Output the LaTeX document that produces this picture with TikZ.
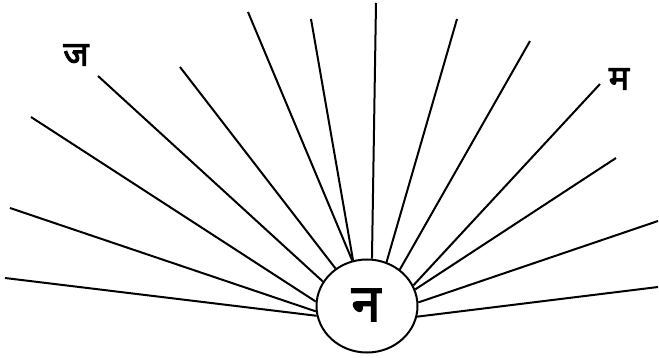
\documentclass[tikz,border=0pt]{standalone}
\usepackage{fontspec}
\newfontfamily\deva[Script=Devanagari, FakeBold=3]{Noto Sans}
\usetikzlibrary{shapes.geometric}
\begin{document}
\begin{tikzpicture}[x=1pt,y=-1pt,
  ray/.style={line width=2pt},
  hub/.style={ellipse, draw, line width=2pt, minimum width=101pt, minimum height=93pt, inner sep=0pt},
  lbl/.style={inner sep=0pt, font=\deva\fontsize{34}{38}\selectfont},
  bigl/.style={inner sep=0pt, font=\deva\fontsize{52}{56}\selectfont}]
\useasboundingbox (0,0) rectangle (659,358);
\node[hub] (c) at (367,306) {};
\node[bigl] (t) at (366,305) {न};
\node[lbl] (j) at (76,55) {ज};
\node[lbl] (m) at (619,79) {म};
\coordinate (o1) at (10,208);
\coordinate (o2) at (5,278);
\coordinate (o3) at (31,117);
\coordinate (o4) at (98,76);
\coordinate (o5) at (180,67);
\coordinate (o6) at (248,12);
\coordinate (o7) at (311,19);
\coordinate (o8) at (376,3);
\coordinate (o9) at (457,19);
\coordinate (o10) at (530,41);
\coordinate (o11) at (600,84);
\coordinate (o12) at (616,158);
\coordinate (o13) at (658,221);
\coordinate (o14) at (658,287);
\draw[ray] (o1) -- (c.186.5);
\draw[ray] (o2) -- (c.191.5);
\draw[ray] (o3) -- (c.175.6);
\draw[ray] (o4) -- (c.151.4);
\draw[ray] (o5) -- (c.130);
\draw[ray] (o6) -- (c.108);
\draw[ray] (o7) -- (c.107);
\draw[ray] (o8) -- (c.84);
\draw[ray] (o9) -- (c.66.5);
\draw[ray] (o10) -- (c.48);
\draw[ray] (o11) -- (c.24.5);
\draw[ray] (o12) -- (c.19.8);
\draw[ray] (o13) -- (c.4.3);
\draw[ray] (o14) -- (c.-12);
\end{tikzpicture}
\end{document}
